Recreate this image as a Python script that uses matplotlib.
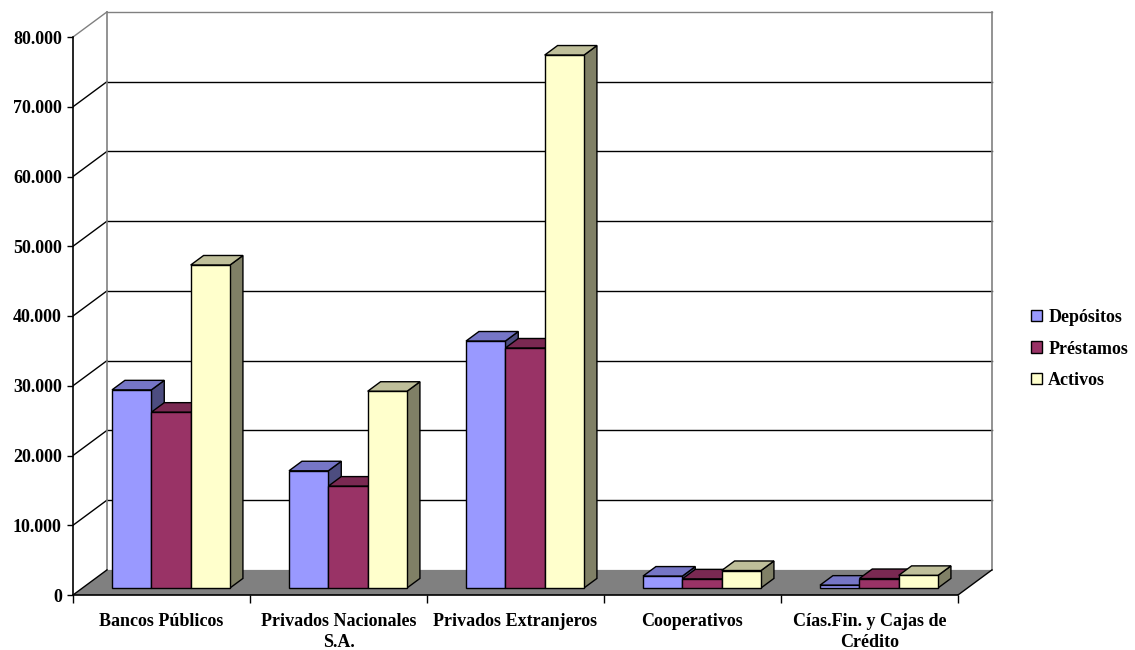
import matplotlib
matplotlib.use("Agg")
import matplotlib.pyplot as plt
from matplotlib.patches import Polygon, Patch
from matplotlib.ticker import FixedLocator, FuncFormatter

# ---- data -------------------------------------------------------------
categories = ["Bancos Públicos", "Privados Nacionales\nS.A.", "Privados Extranjeros",
              "Cooperativos", "Cías.Fin. y Cajas de\nCrédito"]
series_names = ["Depósitos", "Préstamos", "Activos"]
depositos = [28400, 16800, 35400, 1700, 400]
prestamos = [25200, 14600, 34400, 1300, 1350]
activos = [46300, 28200, 76400, 2500, 1800]
y_ticks = list(range(0, 80001, 10000))

# ---- style ------------------------------------------------------------
front_colors = ["#9999FF", "#993366", "#FFFFCC"]
top_colors = ["#7676C6", "#7A2952", "#BFBF9A"]
side_colors = ["#4D4D80", "#4D1A33", "#808066"]
FONT = "Liberation Serif"
FS = 13

# oblique projection of the depth axis (in data units)
DX, DY = 0.192, 3600.0
D0, D1 = 0.28, 0.66          # depth span of the columns
BAR_W = 1 / 4.5              # 3 columns + 150% gap
YMAX = 80000

W, H = 1135, 650
fig = plt.figure(figsize=(W / 100, H / 100), dpi=100)
x0_px, y0_px = 73, 55                 # front-origin in pixels (from bottom-left)
px_per_cat, px_per_unit = 177, 558 / YMAX
xlim = (0, 5.25)
ylim = (0, 84000)
ax = fig.add_axes([x0_px / W, y0_px / H,
                   (xlim[1] - xlim[0]) * px_per_cat / W,
                   (ylim[1] - ylim[0]) * px_per_unit / H])
ax.set_xlim(*xlim)
ax.set_ylim(*ylim)
ax.patch.set_alpha(0)

n = len(categories)

# walls and gridlines
for v in y_ticks[1:]:
    col = "#808080" if v == YMAX else "black"
    ax.plot([0, DX], [v, v + DY], color=col, lw=1, zorder=1)
    ax.plot([DX, n + DX], [v + DY, v + DY], color=col, lw=1, zorder=1)
ax.plot([DX, DX], [DY, YMAX + DY], color="#808080", lw=1.2, zorder=1)
ax.plot([n + DX, n + DX], [DY, YMAX + DY], color="#808080", lw=1.2, zorder=1)

# floor
ax.add_patch(Polygon([(0, 0), (DX, DY), (n + DX, DY), (n, 0)], closed=True,
                     facecolor="#808080", edgecolor="none", zorder=2))
ax.plot([0, DX], [0, DY], color="black", lw=1, zorder=2)
ax.plot([n, n + DX], [0, DY], color="black", lw=1, zorder=2)

# columns
values = [depositos, prestamos, activos]
ddx, ddy = (D1 - D0) * DX, (D1 - D0) * DY
for i in range(n):
    center = i + 0.5 + D0 * DX
    yb = D0 * DY
    for j in range(3):
        xa = center + (j - 1.5) * BAR_W
        xb = xa + BAR_W
        yt = yb + values[j][i]
        kw = dict(closed=True, edgecolor="black", lw=1, zorder=3, joinstyle="miter")
        ax.add_patch(Polygon([(xb, yb), (xb + ddx, yb + ddy), (xb + ddx, yt + ddy), (xb, yt)],
                             facecolor=side_colors[j], **kw))
        ax.add_patch(Polygon([(xa, yt), (xb, yt), (xb + ddx, yt + ddy), (xa + ddx, yt + ddy)],
                             facecolor=top_colors[j], **kw))
        ax.add_patch(Polygon([(xa, yb), (xb, yb), (xb, yt), (xa, yt)],
                             facecolor=front_colors[j], **kw))

# axes
for s in ("top", "right"):
    ax.spines[s].set_visible(False)
ax.spines["left"].set_bounds(0, YMAX)
ax.spines["bottom"].set_bounds(0, n)
for s in ("left", "bottom"):
    ax.spines[s].set_linewidth(1.2)
    ax.spines[s].set_zorder(4)

ax.yaxis.set_major_locator(FixedLocator(y_ticks))
ax.yaxis.set_major_formatter(FuncFormatter(lambda v, p: f"{int(v):,}".replace(",", ".")))
ax.tick_params(axis="y", direction="out", length=4.5, width=1, pad=3.5)
for t in ax.get_yticklabels():
    t.set_fontfamily(FONT)
    t.set_fontweight("bold")
    t.set_fontsize(FS)

ax.xaxis.set_major_locator(FixedLocator(range(n + 1)))
ax.xaxis.set_minor_locator(FixedLocator([i + 0.5 for i in range(n)]))
ax.set_xticklabels([""] * (n + 1))
ax.set_xticklabels(categories, minor=True, fontfamily=FONT, fontweight="bold",
                   fontsize=FS, linespacing=1.3)
ax.tick_params(axis="x", which="major", direction="out", length=5.5, width=1)
ax.tick_params(axis="x", which="minor", length=0, pad=13)

# legend
handles = [Patch(facecolor=c, edgecolor="black", lw=1) for c in front_colors]
fig.legend(handles, series_names, loc="center left",
           bbox_to_anchor=(1031 / W, 1 - 349 / H), frameon=False,
           prop=dict(family=FONT, weight="bold", size=FS),
           handlelength=0.6, handleheight=0.6, handletextpad=0.35,
           labelspacing=0.8, borderpad=0, borderaxespad=0)

fig.savefig("out.png", dpi=100, facecolor="white")
